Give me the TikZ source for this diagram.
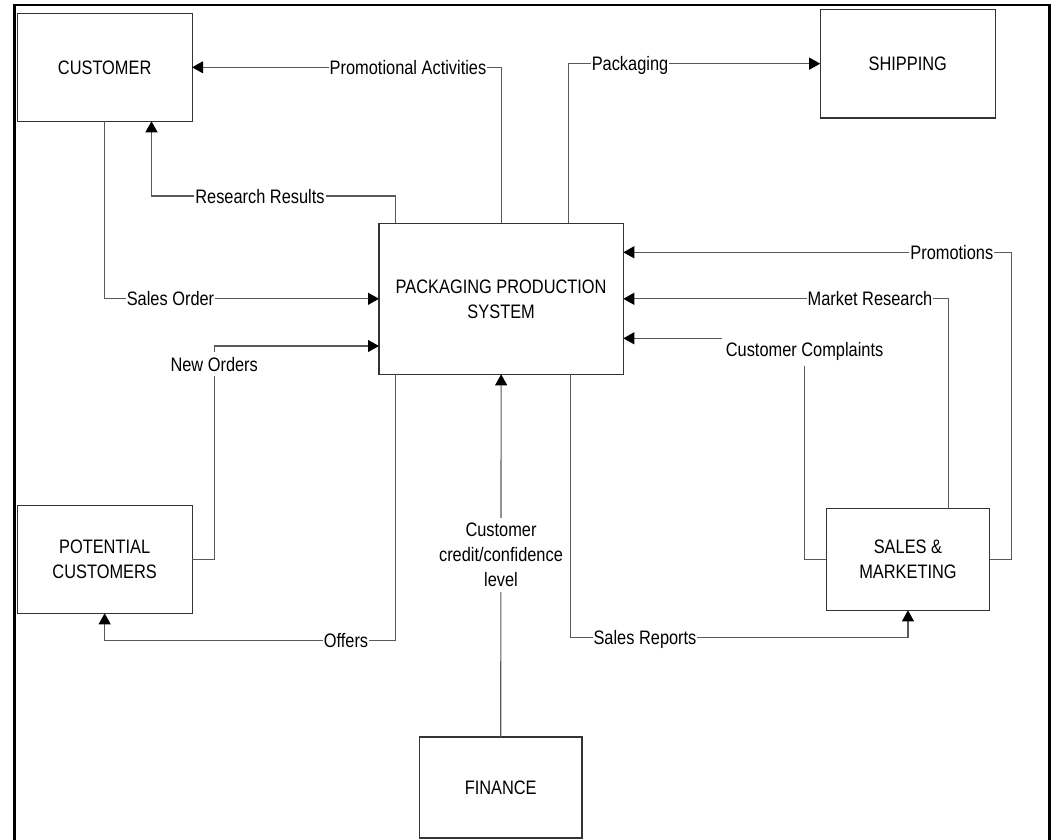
\documentclass[tikz,border=0pt]{standalone}
\usepackage{fontspec}
\setmainfont{Liberation Sans}[FakeStretch=0.84]
\usetikzlibrary{arrows.meta,calc}

\tikzset{
  entity/.style={draw=black!80, line width=1.2pt, rectangle, outer sep=0pt,
                 inner sep=0pt, align=center},
  conn/.style={draw=black!65, line width=1.1pt,
               -{Triangle[length=11pt,width=12pt,color=black]}},
  flow/.style={fill=white, inner xsep=1pt, inner ysep=5pt, anchor=base},
  frameline/.style={line width=2.8pt, black}
}

\begin{document}
\begin{tikzpicture}[x=1pt, y=-1pt, font=\fontsize{19.5}{25}\selectfont]
\useasboundingbox (0,0) rectangle (1055,839);

% outer frame (bottom edge runs off the page)
\draw[frameline] (14.3,845) -- (14.3,5) -- (1049.5,5) -- (1049.5,845);

% entities
\node[entity, minimum width=174.9pt, minimum height=108pt]   (cust) at (104.65,67.3)  {CUSTOMER};
\node[entity, minimum width=175.1pt, minimum height=108.7pt] (ship) at (907.75,63.65) {SHIPPING};
\node[entity, minimum width=244.3pt, minimum height=151pt]   (pps)  at (501.15,298.8) {PACKAGING PRODUCTION\\SYSTEM};
\node[entity, minimum width=174.9pt, minimum height=107.6pt] (pc)   at (104.65,559.5) {POTENTIAL\\CUSTOMERS};
\node[entity, minimum width=163.1pt, minimum height=101.6pt] (sm)   at (907.95,559.5) {SALES \&\\MARKETING};
\node[entity, minimum width=162.6pt, minimum height=101pt]   (fin)  at (500.7,787.5)  {FINANCE};

% bend points
\coordinate (rr)  at (151.5,196);
\coordinate (no)  at (214.2,346);
\coordinate (of)  at (104.65,640.7);
\coordinate (pm)  at (1011.3,252.3);
\coordinate (cc)  at (804.9,338.3);
\coordinate (srb) at (907.95,637.3);

% data flows
\draw[conn] (pps.north) |- (cust.east);
\draw[conn] ([xshift=16.7pt]pps.north west) |- (rr) -- (rr |- cust.south);
\draw[conn] (cust.south) |- (pps.west);
\draw[conn] (pc.east) -| (no) -- (no -| pps.west);
\draw[conn] ([xshift=16.7pt]pps.south west) |- (of) -- (pc.south);
\draw[conn] (fin.north) -- (pps.south);
\draw[conn] ([xshift=189.3pt]pps.north west) |- (ship.west);
\draw[conn] (sm.east) -| (pm) -- (pm -| pps.east);
\draw[conn] ([xshift=122.5pt]sm.north west) |- (pps.east);
\draw[conn] (sm.west) -| (cc) -- (cc -| pps.east);
\draw[conn] ([xshift=191.7pt]pps.south west) |- (srb) -- (sm.south);

% flow labels
\node[flow] (lpa) at (408,74.5)   {Promotional Activities};
\node[flow] (lrr) at (260,203)    {Research Results};
\node[flow] (lso) at (170.5,305.8){Sales Order};
\node[flow] (lno) at (214.2,371)  {New Orders};
\node[flow] (lof) at (346,647.7)  {Offers};
\node[flow] (lpk) at (630,70.6)   {Packaging};
\node[flow] (lpm) at (951.8,259.3){Promotions};
\node[flow] (lmr) at (870,305.8)  {Market Research};
\node[flow, inner xsep=4pt] (lcc) at (804.6,356.7) {Customer Complaints};
\node[flow] (lsr) at (645,644.3)  {Sales Reports};
\node[fill=white, inner xsep=1pt, inner ysep=5pt, align=center] (lcr) at (501,555)
  {Customer\\credit/confidence\\level};
\end{tikzpicture}
\end{document}
